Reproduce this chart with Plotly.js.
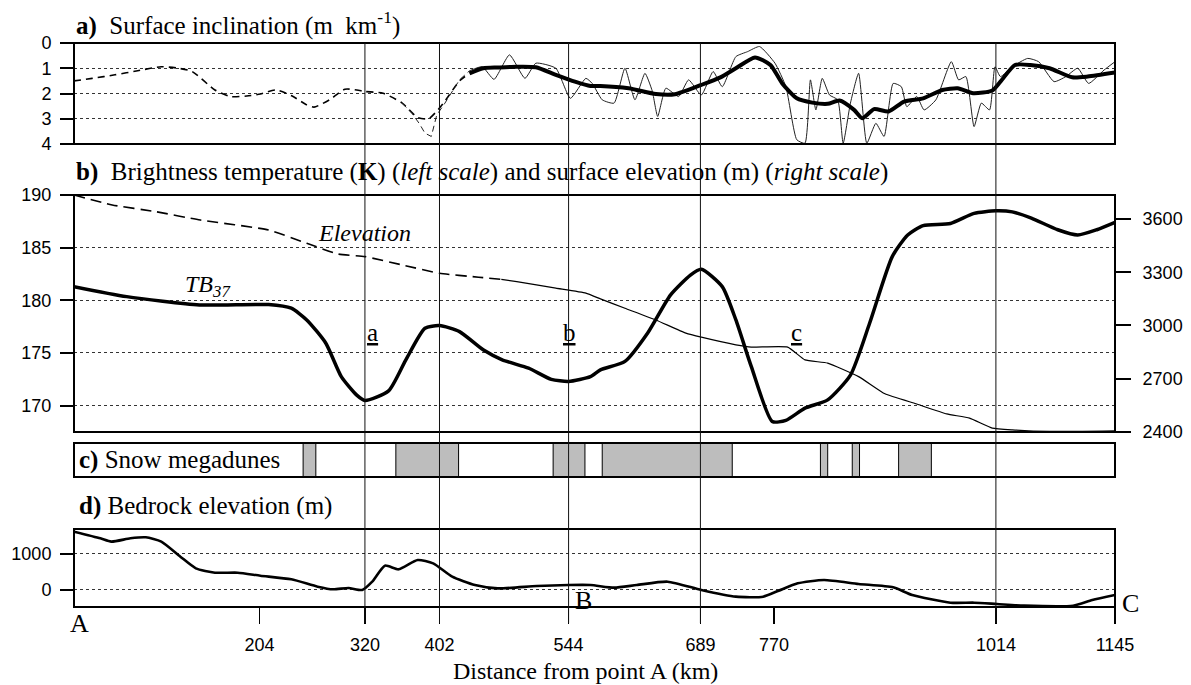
<!DOCTYPE html>
<html>
<head>
<meta charset="utf-8">
<script src="https://cdn.plot.ly/plotly-3.0.1.min.js"></script>
<style>
  html, body { margin: 0; padding: 0; background: #ffffff; }
  #chart { width: 1191px; height: 685px; }
</style>
</head>
<body>
<div id="chart"></div>
<script>
// ---------------- DATA ----------------
// x: distance from point A (km)
const distTicks = [204, 320, 402, 544, 689, 770, 1014, 1145];
const markerLines = [320, 402, 544, 689, 1014];

// a) Surface inclination (m km-1)
const slopeDashKm  = [0, 20, 45, 70, 96, 115, 130, 155, 172, 190, 205, 222, 240, 256, 264, 281, 298, 311, 320, 340, 361, 378, 390, 399, 408, 424, 435];
const slopeDashVal = [1.5, 1.4, 1.26, 1.1, 0.94, 1.0, 1.13, 1.86, 2.12, 2.1, 2.02, 1.86, 2.1, 2.45, 2.54, 2.25, 1.83, 1.86, 1.92, 1.99, 2.38, 2.95, 3.0, 2.7, 2.3, 1.5, 1.2];
const slopeRawDashKm  = [361, 372, 380, 386, 393, 399, 408, 424, 435];
const slopeRawDashVal = [2.38, 2.8, 3.2, 3.57, 3.7, 2.85, 2.38, 1.46, 1.1];
const slopeSmoothKm  = [435, 450, 466, 487, 508, 530, 551, 568, 579, 610, 640, 661, 690, 711, 728, 749, 766, 779, 795, 812, 829, 842, 858, 867, 880, 896, 913, 934, 955, 972, 989, 1010, 1019, 1035, 1052, 1073, 1098, 1115, 1145];
const slopeSmoothVal = [1.2, 1.0, 0.97, 0.94, 0.96, 1.26, 1.53, 1.7, 1.7, 1.79, 2.02, 2.03, 1.66, 1.36, 1.0, 0.57, 0.87, 1.6, 2.19, 2.36, 2.41, 2.28, 2.65, 2.98, 2.62, 2.71, 2.32, 2.19, 1.86, 1.79, 1.99, 1.88, 1.53, 0.87, 0.87, 1.0, 1.36, 1.33, 1.17];
const slopeRawKm  = [435, 449, 462, 479, 496, 508, 530, 546, 563, 570, 581, 594, 606, 617, 628, 636, 642, 651, 665, 676, 690, 703, 713, 728, 741, 754, 771, 783, 795, 804, 810, 816, 823, 831, 840, 846, 854, 863, 872, 882, 891, 901, 910, 916, 927, 935, 948, 965, 973, 981, 990, 998, 1007, 1013, 1019, 1032, 1049, 1061, 1078, 1091, 1104, 1116, 1133, 1145];
const slopeRawVal = [1.1, 0.94, 1.44, 0.47, 1.4, 0.8, 1.0, 2.19, 1.4, 1.6, 2.25, 2.38, 1.0, 2.25, 1.2, 1.9, 2.91, 1.79, 2.12, 1.46, 2.06, 1.13, 1.73, 0.54, 0.34, 0.14, 0.8, 1.73, 3.83, 3.97, 1.46, 2.65, 1.4, 2.06, 2.25, 3.97, 2.38, 1.2, 3.97, 3.18, 3.7, 1.6, 1.73, 2.52, 2.12, 2.65, 2.25, 0.74, 1.46, 1.33, 3.31, 2.38, 2.65, 0.94, 1.33, 0.94, 0.61, 0.74, 1.53, 1.33, 1.0, 1.6, 1.07, 0.74];

// b) Brightness temperature TB37 (K)
const tbKm  = [0, 58, 138, 214, 239, 256, 277, 294, 311, 320, 346, 365, 386, 402, 424, 450, 471, 500, 525, 544, 568, 579, 606, 631, 656, 678, 690, 713, 728, 745, 768, 783, 804, 829, 854, 875, 900, 917, 934, 964, 990, 1014, 1032, 1053, 1082, 1104, 1125, 1145];
const tbVal = [181.3, 180.35, 179.56, 179.6, 179.25, 178.14, 175.93, 172.76, 171.0, 170.5, 171.4, 174.35, 177.35, 177.6, 177.03, 175.3, 174.35, 173.56, 172.5, 172.3, 172.76, 173.4, 174.2, 176.9, 180.5, 182.4, 182.95, 181.3, 178.14, 173.7, 168.5, 168.6, 169.76, 170.55, 172.9, 177.8, 184.15, 186.2, 187.1, 187.3, 188.26, 188.5, 188.4, 187.8, 186.7, 186.2, 186.7, 187.4];

// b) Surface elevation (m)
const elevDashKm  = [0, 42, 90, 139, 214, 256, 290, 320, 361, 402, 445, 470];
const elevDashVal = [3735, 3679, 3641, 3594, 3538, 3463, 3403, 3388, 3341, 3294, 3272, 3260];
const elevKm  = [470, 487, 530, 563, 579, 606, 640, 673, 690, 728, 745, 785, 804, 829, 863, 892, 926, 960, 985, 1010, 1032, 1073, 1145];
const elevVal = [3260, 3247, 3210, 3182, 3150, 3097, 3031, 2957, 2934, 2891, 2878, 2878, 2806, 2788, 2712, 2615, 2559, 2502, 2478, 2422, 2412, 2403, 2407];

// c) Snow megadunes (start / end km)
const duneStart = [252, 354, 527, 581, 821, 856, 907];
const duneEnd   = [266, 423, 562, 724, 829, 864, 943];

// d) Bedrock elevation (m)
const bedKm  = [0, 29, 41, 62, 79, 96, 117, 134, 155, 180, 205, 239, 268, 285, 302, 317, 328, 342, 357, 378, 395, 416, 441, 466, 509, 544, 568, 594, 619, 653, 690, 728, 758, 775, 796, 825, 863, 901, 922, 964, 990, 1015, 1045, 1099, 1120, 1145];
const bedVal = [1620, 1435, 1343, 1435, 1463, 1343, 926, 602, 481, 481, 398, 296, 93, 19, 56, 0, 231, 676, 574, 833, 741, 370, 139, 46, 111, 139, 139, 65, 139, 231, 0, -185, -185, -19, 185, 278, 167, 74, -139, -352, -352, -389, -435, -435, -278, -139];

// ---------------- CHART ----------------
const SERIF = 'Liberation Serif, Times New Roman, serif';
const SANS = 'Liberation Sans, Arial, Helvetica, sans-serif';
const BLACK = '#000000';
const TITLE_SIZE = 25;
const LABEL_SIZE = 25;

const traces = [
  {x: slopeDashKm, y: slopeDashVal, xaxis: 'x', yaxis: 'y', mode: 'lines',
   line: {color: BLACK, width: 1.6, dash: '7px,5px', shape: 'spline', smoothing: 0.6}, name: 'slope (smoothed, interpolated)'},
  {x: slopeRawDashKm, y: slopeRawDashVal, xaxis: 'x', yaxis: 'y', mode: 'lines',
   line: {color: '#222', width: 1, dash: '6px,4px'}, name: 'slope (raw, interpolated)'},
  {x: slopeRawKm, y: slopeRawVal, xaxis: 'x', yaxis: 'y', mode: 'lines',
   line: {color: '#222', width: 1, shape: 'spline', smoothing: 0.5}, name: 'slope (raw)'},
  {x: slopeSmoothKm, y: slopeSmoothVal, xaxis: 'x', yaxis: 'y', mode: 'lines',
   line: {color: BLACK, width: 4, shape: 'spline', smoothing: 0.6}, name: 'slope (smoothed)'},

  {x: tbKm, y: tbVal, xaxis: 'x', yaxis: 'y2', mode: 'lines',
   line: {color: BLACK, width: 3.5, shape: 'spline', smoothing: 0.6}, name: 'TB37'},
  {x: elevDashKm, y: elevDashVal, xaxis: 'x', yaxis: 'y3', mode: 'lines',
   line: {color: BLACK, width: 1.6, dash: '11px,6px', shape: 'spline', smoothing: 0.5}, name: 'Elevation (interpolated)'},
  {x: elevKm, y: elevVal, xaxis: 'x', yaxis: 'y3', mode: 'lines',
   line: {color: BLACK, width: 1.2, shape: 'spline', smoothing: 0.4}, name: 'Elevation'},

  {x: duneStart.map((s, i) => (s + duneEnd[i]) / 2),
   width: duneStart.map((s, i) => duneEnd[i] - s),
   y: duneStart.map(() => 1), base: 0, type: 'bar', xaxis: 'x', yaxis: 'y4',
   marker: {color: '#bdbdbd', line: {color: BLACK, width: 1}}, name: 'Snow megadunes'},

  {x: bedKm, y: bedVal, xaxis: 'x', yaxis: 'y5', mode: 'lines',
   line: {color: BLACK, width: 2.6, shape: 'spline', smoothing: 0.6}, name: 'Bedrock'}
];

const domA = [0.8209, 1.0];
const domB = [0.3103, 0.7305];
const domC = [0.2305, 0.2908];
const domD = [0.0, 0.1383];

const yCommon = {
  ticks: 'outside', ticklen: 13, tickwidth: 2, tickcolor: BLACK,
  tickfont: {family: SANS, size: 18, color: BLACK},
  showline: false, zeroline: false, fixedrange: true,
  showgrid: true, griddash: 'dot', gridcolor: '#333', gridwidth: 1,
  ticklabelstandoff: 5
};

const shapes = [];
// panel boxes
['y', 'y2', 'y4', 'y5'].forEach(ax => {
  shapes.push({type: 'rect', xref: 'paper', yref: ax + ' domain', x0: 0, x1: 1, y0: 0, y1: 1,
    line: {color: BLACK, width: 2}, fillcolor: 'rgba(0,0,0,0)', layer: 'above'});
});
// vertical reference lines at the marked distances
markerLines.forEach(km => {
  shapes.push({type: 'line', xref: 'x', yref: 'paper', x0: km, x1: km, y0: -0.0284, y1: 1,
    line: {color: '#111', width: 1}, layer: 'above'});
});

const annotations = [
  {xref: 'paper', yref: 'paper', x: 0.0, y: 1.034, xanchor: 'left', yanchor: 'middle', showarrow: false,
   text: '<b>a)</b>  Surface inclination (m  km<sup>-1</sup>)', font: {family: SERIF, size: TITLE_SIZE, color: BLACK}},
  {xref: 'paper', yref: 'paper', x: 0.0, y: 0.772, xanchor: 'left', yanchor: 'middle', showarrow: false,
   text: '<b>b)</b>  Brightness temperature (<b>K</b>) (<i>left scale</i>) and surface elevation (m) (<i>right scale</i>)',
   font: {family: SERIF, size: TITLE_SIZE, color: BLACK}},
  {xref: 'paper', yref: 'paper', x: 0.003, y: 0.2606, xanchor: 'left', yanchor: 'middle', showarrow: false,
   text: '<b>c)</b> Snow megadunes', font: {family: SERIF, size: TITLE_SIZE, color: BLACK}},
  {xref: 'paper', yref: 'paper', x: 0.003, y: 0.179, xanchor: 'left', yanchor: 'middle', showarrow: false,
   text: '<b>d)</b> Bedrock elevation (m)', font: {family: SERIF, size: TITLE_SIZE, color: BLACK}},
  {xref: 'paper', yref: 'paper', x: 0.491, y: -0.1135, xanchor: 'center', yanchor: 'middle', showarrow: false,
   text: 'Distance from point A (km)', font: {family: SERIF, size: 24, color: BLACK}},

  {xref: 'x', yref: 'y2', x: 320, y: 186.4, xanchor: 'center', yanchor: 'middle', showarrow: false,
   text: '<i>Elevation</i>', font: {family: SERIF, size: 24, color: BLACK}},
  {xref: 'x', yref: 'y2', x: 120, y: 181.4, xanchor: 'left', yanchor: 'middle', showarrow: false,
   text: '<i>TB<sub>37</sub></i>', font: {family: SERIF, size: 24, color: BLACK}},
  {xref: 'x', yref: 'y2', x: 328, y: 176.9, xanchor: 'center', yanchor: 'middle', showarrow: false,
   text: '<u>a</u>', font: {family: SERIF, size: LABEL_SIZE, color: BLACK}},
  {xref: 'x', yref: 'y2', x: 545, y: 176.9, xanchor: 'center', yanchor: 'middle', showarrow: false,
   text: '<u>b</u>', font: {family: SERIF, size: LABEL_SIZE, color: BLACK}},
  {xref: 'x', yref: 'y2', x: 795, y: 176.9, xanchor: 'center', yanchor: 'middle', showarrow: false,
   text: '<u>c</u>', font: {family: SERIF, size: LABEL_SIZE, color: BLACK}},

  {xref: 'x', yref: 'paper', x: 6, y: -0.03, xanchor: 'center', yanchor: 'middle', showarrow: false,
   text: 'A', font: {family: SERIF, size: 26, color: BLACK}},
  {xref: 'x', yref: 'y5', x: 560, y: -300, xanchor: 'center', yanchor: 'middle', showarrow: false,
   text: 'B', font: {family: SERIF, size: 26, color: BLACK}},
  {xref: 'paper', yref: 'y5', x: 1.0045, y: -380, xanchor: 'left', yanchor: 'middle', showarrow: false,
   text: 'C', font: {family: SERIF, size: 26, color: BLACK}}
];

const layout = {
  width: 1191, height: 685,
  margin: {l: 74, r: 76, t: 43, b: 78},
  paper_bgcolor: '#ffffff', plot_bgcolor: '#ffffff',
  showlegend: false,
  bargap: 0,
  xaxis: {
    range: [0, 1145], anchor: 'y5', domain: [0, 1],
    tickvals: distTicks, ticktext: distTicks.map(String),
    ticks: 'outside', ticklen: 16, tickwidth: 1.5, tickcolor: BLACK,
    tickfont: {family: SANS, size: 18, color: BLACK},
    ticklabelstandoff: 5,
    showgrid: false, zeroline: false, showline: false, fixedrange: true
  },
  yaxis: Object.assign({}, yCommon, {domain: domA, anchor: 'x', range: [4, 0], tickvals: [0, 1, 2, 3, 4]}),
  yaxis2: Object.assign({}, yCommon, {domain: domB, anchor: 'x', range: [167.5, 190], tickvals: [170, 175, 180, 185, 190]}),
  yaxis3: Object.assign({}, yCommon, {overlaying: 'y2', side: 'right', anchor: 'x', range: [2400, 3735],
    tickvals: [2400, 2700, 3000, 3300, 3600], showgrid: false, ticklen: 15, ticklabelstandoff: 8}),
  yaxis4: {domain: domC, anchor: 'x', range: [0, 1], showgrid: false, zeroline: false, showline: false,
    showticklabels: false, ticks: '', fixedrange: true},
  yaxis5: Object.assign({}, yCommon, {domain: domD, anchor: 'x', range: [-472, 1694], tickvals: [0, 1000]}),
  shapes: shapes,
  annotations: annotations
};

Plotly.newPlot('chart', traces, layout, {displayModeBar: false, staticPlot: true});
</script>
</body>
</html>
